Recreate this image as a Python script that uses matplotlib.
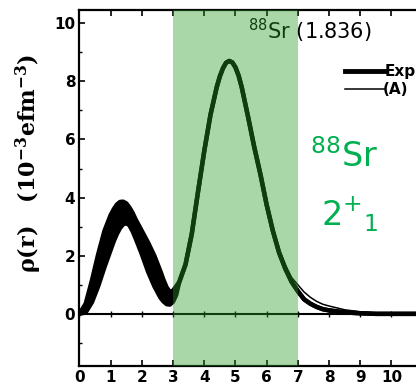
import numpy as np
import matplotlib.pyplot as plt
from matplotlib.ticker import MultipleLocator

plt.rcParams["mathtext.default"] = "regular"

# radius grid (fm) and densities (10^-3 e fm^-3)
r = [0.0, 0.2, 0.4, 0.6, 0.8, 1.0, 1.1, 1.2, 1.3, 1.4, 1.5, 1.6, 1.7, 1.8,
     2.0, 2.2, 2.4, 2.6, 2.7, 2.8, 2.9, 3.0, 3.1,
     3.2, 3.4, 3.6, 3.8, 4.0, 4.2, 4.4, 4.5, 4.6, 4.7, 4.8, 4.9, 5.0, 5.1, 5.2,
     5.4, 5.6, 5.8, 6.0, 6.2, 6.4, 6.6, 6.8, 7.0, 7.2, 7.4, 7.6, 7.8, 8.0,
     8.5, 9.0, 9.5, 10.0, 10.8]

# upper / lower edge of the experimental band
exp_hi = [0.0, 0.35, 1.15, 2.05, 2.85, 3.4, 3.6, 3.76, 3.85, 3.86, 3.8, 3.66, 3.48, 3.25,
          2.85, 2.45, 2.0, 1.45, 1.15, 0.9, 0.75, 0.8, 0.95,
          1.1, 1.7, 2.75, 4.2, 5.6, 6.85, 7.8, 8.17, 8.45, 8.64, 8.7, 8.65, 8.48, 8.2, 7.8,
          6.8, 5.75, 4.8, 3.75, 2.85, 2.1, 1.55, 1.1, 0.78, 0.5, 0.35, 0.24, 0.16, 0.12,
          0.05, 0.02, 0.0, 0.0, 0.0]

exp_lo = [0.0, 0.05, 0.4, 0.95, 1.6, 2.2, 2.5, 2.75, 2.95, 3.08, 3.12, 3.05, 2.85, 2.6,
          2.05, 1.45, 0.95, 0.55, 0.42, 0.33, 0.32, 0.42, 0.65,
          1.1, 1.7, 2.75, 4.2, 5.6, 6.85, 7.8, 8.17, 8.45, 8.64, 8.7, 8.65, 8.48, 8.2, 7.8,
          6.8, 5.75, 4.8, 3.75, 2.85, 2.1, 1.55, 1.1, 0.78, 0.5, 0.35, 0.24, 0.16, 0.12,
          0.05, 0.02, 0.0, 0.0, 0.0]

# model (A)
model_a = [0.0, 0.2, 0.75, 1.5, 2.2, 2.8, 3.05, 3.25, 3.4, 3.45, 3.45, 3.35, 3.15, 2.95,
           2.45, 1.95, 1.45, 1.0, 0.8, 0.62, 0.55, 0.6, 0.8,
           1.1, 1.7, 2.75, 4.2, 5.6, 6.85, 7.8, 8.17, 8.45, 8.64, 8.7, 8.65, 8.48, 8.2, 7.8,
           6.8, 5.8, 4.85, 3.85, 2.95, 2.22, 1.68, 1.25, 1.0, 0.75, 0.57, 0.43, 0.33, 0.27,
           0.14, 0.07, 0.03, 0.01, 0.0]

x_ticks = [0, 1, 2, 3, 4, 5, 6, 7, 8, 9, 10]
y_ticks = [0, 2, 4, 6, 8, 10]
span = (3, 7)

fig = plt.figure(figsize=(4.16, 3.88), dpi=100)
ax = fig.add_axes([0.191, 0.057, 0.81, 0.917])

ax.fill_between(r, exp_lo, exp_hi, color="black", lw=0)
ax.plot(r, exp_hi, color="black", lw=3.2, solid_capstyle="round", solid_joinstyle="round")
ax.plot(r, exp_lo, color="black", lw=3.2, solid_capstyle="round", solid_joinstyle="round")
ax.plot(r, model_a, color="black", lw=1.1)

ax.axhline(0, color="black", lw=1.5)
ax.plot(x_ticks, np.zeros(len(x_ticks)), "|", color="black", ms=4, mew=1)

ax.axvspan(span[0], span[1], color="#289b23", alpha=0.4, lw=0, zorder=5)

ax.set_xlim(0, 10.8)
ax.set_ylim(-1.79, 10.45)
ax.set_xticks(x_ticks)
ax.set_yticks(y_ticks)
ax.yaxis.set_minor_locator(MultipleLocator(1))
ax.tick_params(direction="in", length=4, width=1.2, top=True, right=False,
               labelsize=11, pad=3)
ax.tick_params(which="minor", direction="in", length=2.5, width=1)
for lab in ax.get_xticklabels() + ax.get_yticklabels():
    lab.set_fontweight("bold")
ax.spines["right"].set_visible(False)
for s in ["left", "top", "bottom"]:
    ax.spines[s].set_linewidth(1.6)

ax.set_ylabel(r"$\rho$(r)   (10$^{-3}$efm$^{-3}$)", fontsize=16, fontweight="bold",
              family="DejaVu Serif")
ax.yaxis.set_label_coords(-0.105, 0.57)

ax.text(5.4, 9.72, r"$^{88}$Sr (1.836)", fontsize=15, va="center", ha="left")

# legend, cut off by the right edge as in the scan
ax.plot([8.5, 9.75], [8.34, 8.34], color="black", lw=3.5, clip_on=False)
ax.plot([8.5, 9.75], [7.72, 7.72], color="black", lw=1.1, clip_on=False)
ax.text(9.78, 8.34, "Exp", fontsize=11, va="center", ha="left", fontweight="bold")
ax.text(9.72, 7.72, "(A)", fontsize=11, va="center", ha="left", fontweight="bold")

green = "#00b050"
ax.text(7.4, 5.4, r"$^{88}$Sr", color=green, fontsize=24, ha="left", va="center")
ax.text(7.75, 3.42, r"2$^{+}$$_{1}$", color=green, fontsize=24, ha="left", va="center")

fig.savefig("out.png", dpi=100)
